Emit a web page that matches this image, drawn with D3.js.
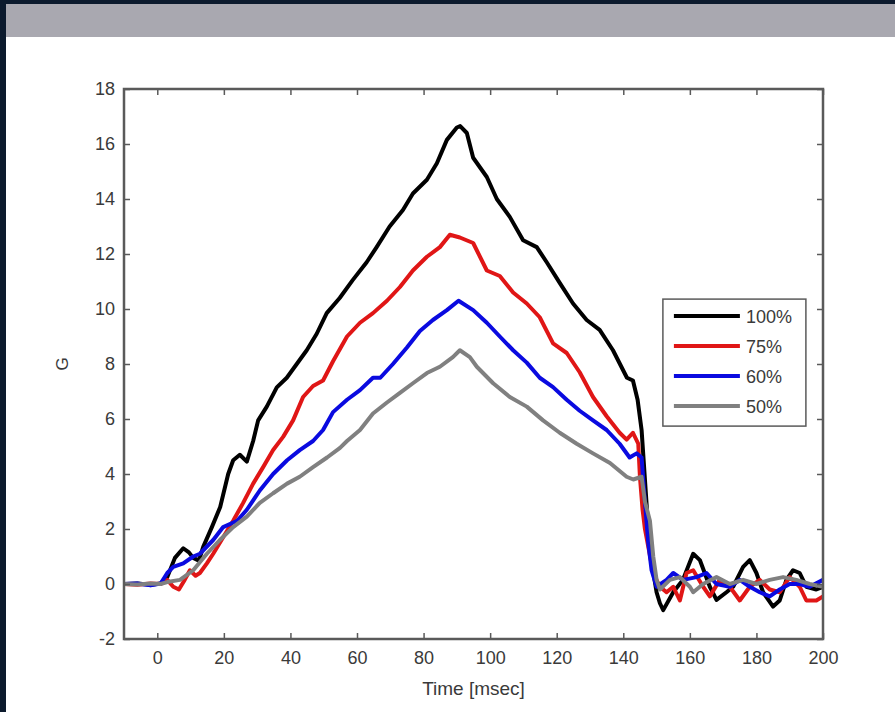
<!DOCTYPE html>
<html>
<head>
<meta charset="utf-8">
<script src="https://cdn.jsdelivr.net/npm/d3@7"></script>
<style>
  html, body { margin: 0; padding: 0; background: #0c1a2d; }
  #chart { width: 895px; height: 712px; }
</style>
</head>
<body>
<div id="chart"></div>
<script>
// data: [time (msec), acceleration (G)]
const series100 = [[-10,0],[-6,0.02],[-2,-0.03],[1,0.02],[3,0.25],[5.3,0.95],[7.8,1.3],[9.5,1.15],[10.8,0.95],[12.5,0.85],[13.8,1.35],[16.4,2.07],[18.9,2.8],[21.3,4.0],[22.8,4.5],[24.8,4.7],[26.9,4.45],[28.8,5.2],[30.3,5.95],[32.9,6.45],[35.9,7.15],[38.9,7.5],[41.9,8.0],[44.9,8.5],[47.9,9.1],[50.9,9.85],[54.8,10.4],[58.7,11.05],[62.9,11.7],[65.9,12.25],[69.8,13.0],[73.8,13.6],[76.8,14.2],[81,14.7],[84,15.3],[87,16.15],[90,16.6],[91,16.65],[93,16.4],[94.9,15.5],[99,14.8],[102,14.0],[105.9,13.35],[109.9,12.5],[114,12.25],[117,11.7],[120.9,10.95],[124.9,10.2],[129,9.6],[132.9,9.24],[136.9,8.5],[141.1,7.5],[142.9,7.4],[144.3,6.7],[145.5,5.6],[146.5,3.8],[147.5,2.0],[148.5,0.8],[150,-0.3],[151,-0.7],[152,-0.95],[155,-0.3],[157.9,0.15],[161,1.1],[163,0.87],[166,-0.1],[168,-0.58],[171,-0.3],[173,-0.1],[176,0.62],[178,0.87],[180,0.4],[182,-0.3],[185,-0.82],[187,-0.6],[189,0.15],[191,0.5],[193,0.4],[195,-0.1],[198,-0.2],[200,-0.1]];
const series75 = [[-10,0],[-6,-0.03],[-2,0.02],[1,0],[3,0.15],[4.8,-0.1],[6.5,-0.2],[8,0.1],[9.8,0.5],[11.5,0.3],[12.8,0.4],[14.9,0.75],[16.8,1.1],[19.8,1.7],[22.8,2.3],[25.8,2.95],[28.8,3.65],[31.8,4.25],[34.8,4.87],[37.8,5.35],[40.8,5.95],[43.8,6.8],[46.8,7.2],[49.8,7.4],[52.8,8.1],[57,9.0],[60.9,9.5],[64.8,9.85],[69,10.3],[72.9,10.8],[76.8,11.4],[81,11.9],[84.9,12.25],[87.9,12.7],[90.9,12.6],[94.9,12.4],[99,11.4],[102.9,11.2],[106.9,10.6],[111,10.2],[114.9,9.7],[118.9,8.75],[123,8.4],[126.9,7.7],[130.9,6.8],[135,6.1],[138.9,5.5],[141,5.25],[142.9,5.5],[144.5,5.1],[145,3.9],[145.8,2.7],[146.5,2.0],[147.9,1.1],[149,0.4],[151,-0.1],[153,-0.3],[155,-0.1],[157,-0.6],[159,0.4],[161,0.5],[164,-0.1],[166,-0.45],[169,0.15],[172,-0.1],[175,-0.6],[178,-0.1],[181,0.15],[184,-0.2],[187,-0.3],[190,0.25],[193,-0.1],[195,-0.6],[198,-0.6],[200,-0.45]];
const series60 = [[-10,0],[-6,0.02],[-2,-0.05],[1,0.02],[3,0.4],[4.8,0.62],[7.8,0.75],[10.8,1.0],[12.8,1.1],[16.8,1.6],[19.8,2.07],[24,2.3],[26.9,2.7],[30.8,3.4],[34.8,4.0],[39,4.5],[42.8,4.87],[46.8,5.2],[49.8,5.6],[52.8,6.25],[57,6.7],[60.9,7.05],[64.8,7.5],[67,7.5],[70.8,8.0],[75,8.6],[78.9,9.2],[82.8,9.6],[87,9.96],[90.5,10.3],[94.9,9.96],[99,9.5],[102.9,9.0],[106.9,8.5],[111,8.05],[114.9,7.5],[118.9,7.16],[123,6.7],[126.9,6.3],[130.9,5.95],[135,5.6],[138.9,5.1],[141.9,4.6],[144,4.75],[145.5,4.6],[146.3,3.3],[147.5,1.5],[148.5,0.5],[150,-0.1],[153,0.15],[155,0.4],[158,0.15],[162,0.25],[165,0.4],[168,0],[172,-0.1],[175,0.15],[178,-0.1],[181,-0.3],[184,-0.45],[187,-0.2],[190,0],[193,0],[196,-0.1],[200,0.15]];
const series50 = [[-10,0],[-6,-0.02],[-2,0.02],[1,0],[3,0.07],[6.8,0.15],[10.8,0.5],[14.9,1.1],[18.8,1.6],[22.8,2.07],[26.9,2.45],[30.8,2.95],[34.8,3.3],[39,3.65],[42.8,3.9],[46.8,4.25],[51,4.6],[54.9,4.95],[57,5.2],[60.9,5.6],[64.8,6.2],[69,6.6],[72.9,6.95],[76.8,7.3],[81,7.67],[84.9,7.9],[88.8,8.25],[90.9,8.5],[93.9,8.25],[96,7.9],[100.9,7.3],[105.9,6.8],[111,6.45],[115.9,5.95],[120.9,5.5],[126,5.1],[130.9,4.75],[136,4.4],[141,3.9],[143,3.8],[145.5,3.9],[146.5,3.0],[148,2.3],[149,1.0],[150,0.15],[151,-0.2],[154,0.15],[157,0.25],[160,-0.1],[161,-0.3],[164,0],[168,0.25],[172,0],[176,0.15],[180,0],[184,0.15],[188,0.25],[192,0.15],[196,0],[200,-0.1]];

const seriesNames = ['100%', '75%', '60%', '50%'];
const seriesColors = ['#000000', '#e01616', '#0a0ae0', '#808080'];
const allSeries = [series100, series75, series60, series50];
const xTicks = [0, 20, 40, 60, 80, 100, 120, 140, 160, 180, 200];
const yTicks = [-2, 0, 2, 4, 6, 8, 10, 12, 14, 16, 18];

const W = 895, H = 712;
const margin = { top: 89, right: 72, bottom: 73, left: 124 };
const plotW = W - margin.left - margin.right;
const plotH = H - margin.top - margin.bottom;

const svg = d3.select('#chart').append('svg')
    .attr('width', W)
    .attr('height', H);

// page frame: dark border, grey band, white panel
svg.append('rect').attr('width', W).attr('height', H).attr('fill', '#0c1a2d');
svg.append('rect').attr('x', 6).attr('y', 4).attr('width', W - 6).attr('height', 33).attr('fill', '#a9a8b0');
svg.append('rect').attr('x', 6).attr('y', 37).attr('width', W - 6).attr('height', H - 37).attr('fill', '#ffffff');

const g = svg.append('g').attr('transform', `translate(${margin.left},${margin.top})`);

const x = d3.scaleLinear().domain([-10, 200]).range([0, plotW]);
const y = d3.scaleLinear().domain([-2, 18]).range([plotH, 0]);

g.append('clipPath').attr('id', 'clip')
    .append('rect').attr('width', plotW).attr('height', plotH);

const line = d3.line().x(d => x(d[0])).y(d => y(d[1]));

const lines = g.append('g').attr('clip-path', 'url(#clip)');
allSeries.forEach((s, i) => {
    lines.append('path')
        .datum(s)
        .attr('fill', 'none')
        .attr('stroke', seriesColors[i])
        .attr('stroke-width', 4)
        .attr('stroke-linejoin', 'round')
        .attr('stroke-linecap', 'round')
        .attr('d', line);
});

// MATLAB-style box axes with inward ticks
const axisColor = '#5a5a5a';
const fontFam = '"Liberation Sans", Arial, sans-serif';
const plain = d => String(d);   // keep the plain hyphen minus like the original

function styleAxis(sel) {
    sel.select('.domain').remove();
    sel.selectAll('.tick line').attr('stroke', axisColor).attr('stroke-width', 1.5);
    sel.selectAll('.tick text').attr('fill', '#3a3a3a').style('font-family', fontFam).style('font-size', '18px');
}

g.append('g').attr('transform', `translate(0,${plotH})`)
    .call(d3.axisBottom(x).tickValues(xTicks).tickSizeInner(-6).tickSizeOuter(0).tickPadding(12).tickFormat(plain))
    .call(styleAxis);
g.append('g')
    .call(d3.axisTop(x).tickValues(xTicks).tickSizeInner(-6).tickSizeOuter(0).tickFormat(''))
    .call(styleAxis);
g.append('g')
    .call(d3.axisLeft(y).tickValues(yTicks).tickSizeInner(-6).tickSizeOuter(0).tickPadding(9).tickFormat(plain))
    .call(styleAxis);
g.append('g').attr('transform', `translate(${plotW},0)`)
    .call(d3.axisRight(y).tickValues(yTicks).tickSizeInner(-6).tickSizeOuter(0).tickFormat(''))
    .call(styleAxis);

g.append('rect')
    .attr('width', plotW).attr('height', plotH)
    .attr('fill', 'none').attr('stroke', axisColor).attr('stroke-width', 2.5);

// axis labels
svg.append('text')
    .attr('x', margin.left + plotW / 2)
    .attr('y', 695)
    .attr('text-anchor', 'middle')
    .attr('fill', '#3a3a3a')
    .style('font-family', fontFam).style('font-size', '19px')
    .text('Time [msec]');
svg.append('text')
    .attr('transform', `translate(68,${margin.top + plotH / 2}) rotate(-90)`)
    .attr('text-anchor', 'middle')
    .attr('fill', '#3a3a3a')
    .style('font-family', fontFam).style('font-size', '17px')
    .text('G');

// legend, placed in data units so it sits where the original has it
const legend = g.append('g').attr('transform', `translate(${x(151.9)},${y(10.36)})`);
legend.append('rect')
    .attr('width', 143).attr('height', 127)
    .attr('fill', '#fff').attr('stroke', axisColor).attr('stroke-width', 1.5);
seriesNames.forEach((name, i) => {
    const ry = 17 + i * 30;
    legend.append('line')
        .attr('x1', 11).attr('x2', 77).attr('y1', ry).attr('y2', ry)
        .attr('stroke', seriesColors[i]).attr('stroke-width', 4);
    legend.append('text')
        .attr('x', 83).attr('y', ry).attr('dy', '0.36em')
        .attr('fill', '#3a3a3a')
        .style('font-family', fontFam).style('font-size', '18px')
        .text(name);
});
</script>
</body>
</html>
